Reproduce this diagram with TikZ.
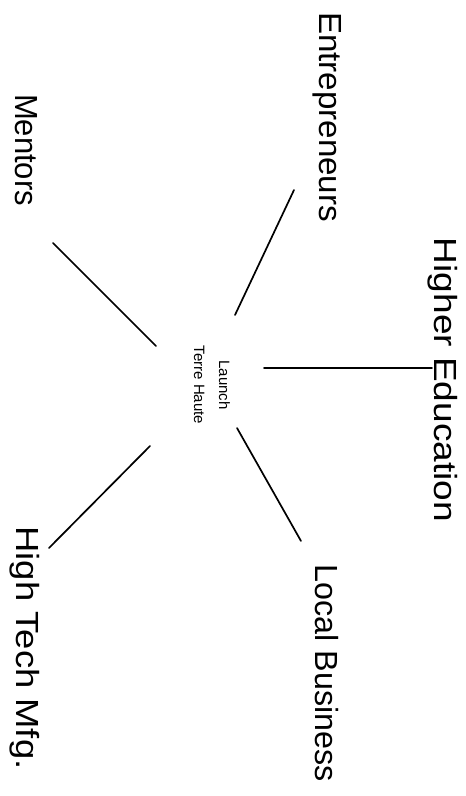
\documentclass[tikz,border=0pt]{standalone}
\usepackage{fontspec}
\setmainfont{Liberation Sans}
\begin{document}
\begin{tikzpicture}[x=1pt,y=-1pt,
  lab/.style={rotate=-90,inner sep=0pt,font=\fontsize{32}{38}\selectfont},
  conn/.style={line width=1.7pt,line cap=round}]
\useasboundingbox[fill=white] (0,0) rectangle (466,796);
\node[lab] (ent) at (327,117) {\resizebox{210pt}{\height}{Entrepreneurs}};
\node[lab] (men) at (26,150) {\resizebox{112pt}{\height}{Mentors}};
\node[lab] (hed) at (443,380) {\resizebox{284pt}{\height}{Higher Education}};
\node[lab] (lbu) at (327,673) {\resizebox{217pt}{\height}{Local Business}};
\node[lab] (htm) at (25,648) {\resizebox{243pt}{\height}{High Tech Mfg.}};
\node[rotate=-90,inner sep=0pt,align=center,font=\fontsize{15}{25}\selectfont] (c) at (212,385) {Launch\\Terre Haute};
\coordinate (e1) at (294,190); \coordinate (e2) at (235,315);
\coordinate (m1) at (53,243); \coordinate (m2) at (156,346);
\coordinate (h1) at (432,368); \coordinate (h2) at (264,368);
\coordinate (l1) at (301,541); \coordinate (l2) at (237,428);
\coordinate (t1) at (49,548); \coordinate (t2) at (150,446);
\draw[conn] (e1) -- (e2);
\draw[conn] (m1) -- (m2);
\draw[conn] (h1) -- (h2);
\draw[conn] (l1) -- (l2);
\draw[conn] (t1) -- (t2);
\end{tikzpicture}
\end{document}
